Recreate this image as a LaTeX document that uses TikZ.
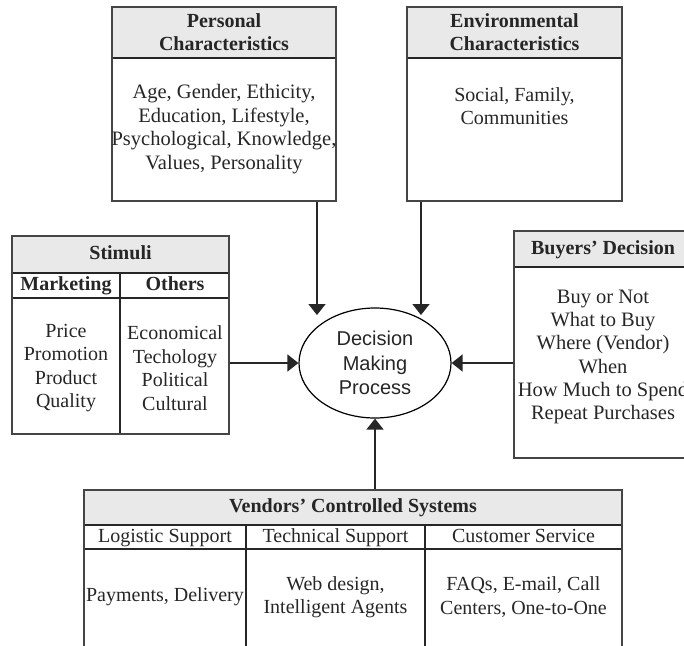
\documentclass[tikz,border=0pt]{standalone}
\usepackage{fontspec}
\setmainfont{Liberation Serif}
\newfontfamily\ellfont{Liberation Sans}
\usetikzlibrary{arrows.meta,shapes.geometric}
\definecolor{hdrgray}{HTML}{E9E9E9}
\definecolor{inkgray}{HTML}{262626}
\definecolor{framegray}{HTML}{454545}
\tikzset{
  frame/.style={draw=framegray, line width=2pt, inner sep=0pt},
  hdrfill/.style={fill=hdrgray},
  rule/.style={draw=black!85, line width=1.8pt},
  txt/.style={text=inkgray, align=center, inner sep=0pt,
    font=\fontsize{20}{23.5}\selectfont},
  hdr/.style={txt, font=\fontsize{20}{23}\selectfont\bfseries},
  oneline/.style={text height=14pt, text depth=4.5pt},
  arr/.style={draw=inkgray, line width=1.6pt,
    -{Triangle[width=17pt,length=11pt]}},
}
\begin{document}
\begin{tikzpicture}[x=1pt,y=-1pt]
\useasboundingbox (0,0) rectangle (684,645);

% ---------- Personal characteristics ----------
\fill[hdrfill] (112,7) rectangle (336,58);
\draw[rule] (112,58) -- (336,58);
\node[frame, minimum width=224, minimum height=194] (pers) at (224,104) {};
\node[hdr] (persh) at (224,32.5) {Personal\\Characteristics};
\node[txt, font=\fontsize{20.5}{23.5}\selectfont] (persb) at (224,129) {Age, Gender, Ethicity,\\Education, Lifestyle,\\Psychological, Knowledge,\\Values, Personality};

% ---------- Environmental characteristics ----------
\fill[hdrfill] (407,7) rectangle (622,58);
\draw[rule] (407,58) -- (622,58);
\node[frame, minimum width=215, minimum height=194] (envr) at (514.5,104) {};
\node[hdr] (envrh) at (514.5,32.5) {Environmental\\Characteristics};
\node[txt] (envrb) at (514.5,106) {Social, Family,\\Communities};

% ---------- Stimuli ----------
\fill[hdrfill] (12,236) rectangle (229,273);
\draw[rule] (12,273) -- (229,273);
\draw[rule] (12,298) -- (229,298);
\draw[rule] (120,273) -- (120,434);
\node[frame, minimum width=217, minimum height=198] (stim) at (120.5,335) {};
\node[hdr, oneline] (stimh) at (120.5,255) {Stimuli};
\node[hdr, oneline] (mkth) at (66,286) {Marketing};
\node[hdr, oneline] (othh) at (175,286) {Others};
\node[txt] (mktb) at (66,368) {Price\\Promotion\\Product\\Quality};
\node[txt] (othb) at (175,368) {Economical\\Techology\\Political\\Cultural};

% ---------- Buyers' decision ----------
\fill[hdrfill] (514,231) rectangle (692,267);
\draw[rule] (514,267) -- (692,267);
\node[frame, minimum width=178, minimum height=227] (buy) at (603,344.5) {};
\node[hdr, oneline] (buyh) at (603,249.5) {Buyers' Decision};
\node[txt, font=\fontsize{20.5}{23.3}\selectfont] (buyb) at (603,357) {Buy or Not\\What to Buy\\Where (Vendor)\\When\\How Much to Spend\\Repeat Purchases};

% ---------- Vendors' controlled systems ----------
\fill[hdrfill] (84,490) rectangle (622,525);
\draw[rule] (84,525) -- (622,525);
\draw[rule] (84,549) -- (622,549);
\draw[rule] (246,525) -- (246,665);
\draw[rule] (425,525) -- (425,665);
\node[frame, minimum width=538, minimum height=175] (vend) at (353,577.5) {};
\node[hdr, oneline] (vendh) at (353,508) {Vendors' Controlled Systems};
\node[txt, oneline] (logh) at (165,537.5) {Logistic Support};
\node[txt, oneline] (tech) at (335.5,537.5) {Technical Support};
\node[txt, oneline] (custh) at (523.5,537.5) {Customer Service};
\node[txt, oneline] (logb) at (165,597) {Payments, Delivery};
\node[txt] (techb) at (335.5,597) {Web design,\\Intelligent Agents};
\node[txt] (custb) at (523.5,597) {FAQs, E-mail, Call\\Centers, One-to-One};

% ---------- Decision making process ----------
\node[draw=black, line width=1.2pt, ellipse, minimum width=152, minimum height=110,
  inner sep=0pt, text=inkgray, align=center,
  font=\ellfont\fontsize{20}{24.5}\selectfont] (dmp) at (375,363)
  {Decision\\Making\\Process};

% ---------- Connectors ----------
\coordinate (pin) at (317,315);
\coordinate (ein) at (421,315);
\draw[arr] (pers.south -| pin) -- (pin);
\draw[arr] (envr.south -| ein) -- (ein);
\draw[arr] (stim.east |- dmp) -- (dmp.west);
\draw[arr] (buy.west |- dmp) -- (dmp.east);
\draw[arr] (vend.north -| dmp) -- (dmp.south);
\end{tikzpicture}
\end{document}
